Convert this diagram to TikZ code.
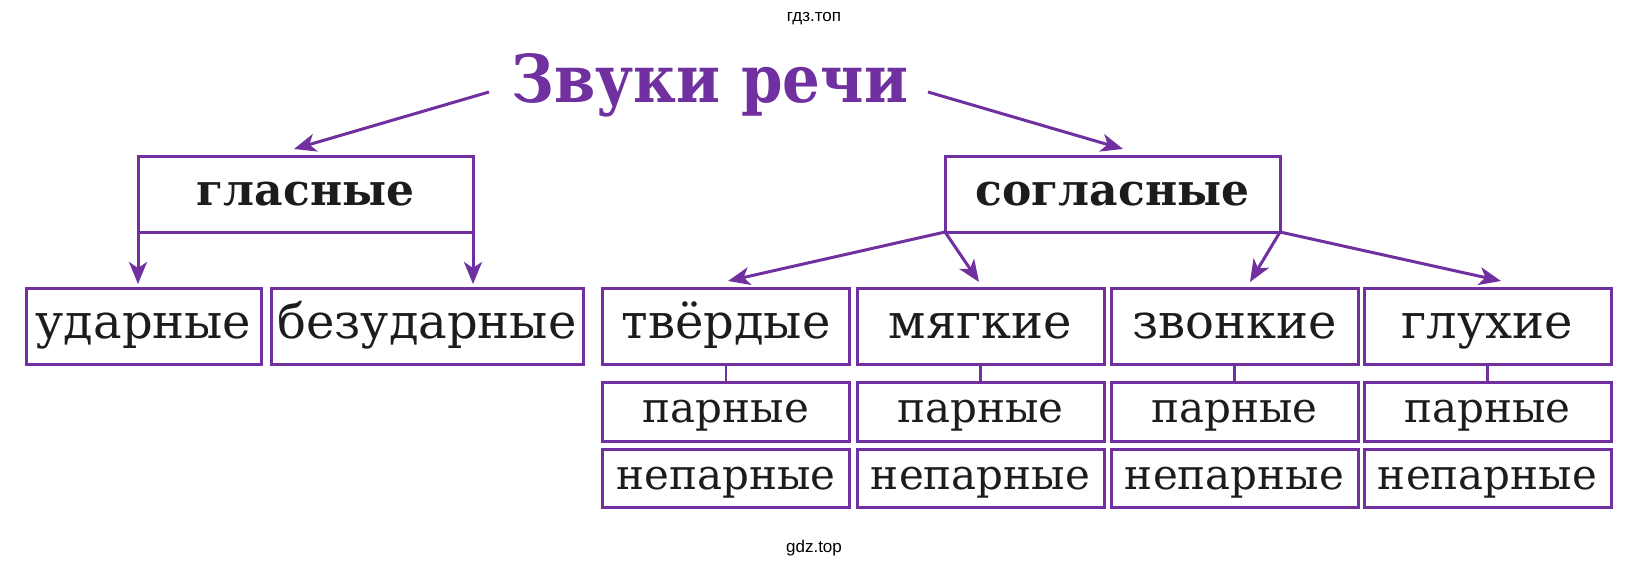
\documentclass[tikz,border=0pt]{standalone}
\usepackage{fontspec}
\setmainfont{DejaVu Serif}
\newfontfamily\wmfont{Liberation Sans}
\usetikzlibrary{arrows.meta}
\definecolor{vio}{RGB}{112,48,160}
\definecolor{ink}{RGB}{28,28,28}
\begin{document}
\begin{tikzpicture}[x=1pt,y=-1pt,
  box/.style={draw=vio,line width=3pt,inner sep=0pt,outer sep=0pt,minimum height=76pt,text=ink,
    font=\fontsize{48}{56}\selectfont,text height=25pt,text depth=0pt},
  topbox/.style={box,minimum width=335pt,font=\fontsize{44}{52}\selectfont\bfseries,text height=23pt},
  subbox/.style={box,minimum width=247pt,minimum height=59pt,font=\fontsize{42}{50}\selectfont,text height=22pt},
  arr/.style={draw=vio,line width=3pt,-{Stealth[length=22pt,width=18pt,inset=6pt]}},
  link/.style={draw=vio,line width=2.5pt},
  wm/.style={font=\wmfont\fontsize{17}{20}\selectfont,text=black,inner sep=0pt}]
\useasboundingbox (0,0) rectangle (1630,565);
\fill[white] (0,0) rectangle (1630,565);
% watermarks
\node[wm,anchor=base] (wm1) at (814,21) {гдз.топ};
\node[wm,anchor=base] (wm2) at (814,552) {gdz.top};
% title
\node[anchor=base,inner sep=0pt,text=vio,font=\fontsize{66}{70}\selectfont\bfseries] (title) at (710,102) {\scalebox{0.9}[1]{Звуки речи}};
% top boxes
\node[topbox] (glas) at (305.5,194) {гласные};
\node[topbox] (sogl) at (1112.5,194) {согласные};
% row 2
\node[box,minimum width=235pt] (udar) at (143.5,326) {ударные};
\node[box,minimum width=312pt] (bezud) at (427,326) {безударные};
\node[box,minimum width=247pt] (tverd) at (726,326) {твёрдые};
\node[box,minimum width=247pt] (myag) at (980.5,326) {мягкие};
\node[box,minimum width=247pt] (zvon) at (1234.5,326) {звонкие};
\node[box,minimum width=247pt] (gluh) at (1487.5,326) {глухие};
% row 3 and 4
\foreach \n/\x in {tverd/726,myag/980.5,zvon/1234.5,gluh/1487.5}{
  \node[subbox] (\n par) at (\x,411.5) {парные};
  \node[subbox,minimum height=58pt] (\n nep) at (\x,478) {непарные};
  \draw[link] (\n.south) -- (\n par.north);
}
% arrow coordinates
\coordinate (tl) at (489,92);
\coordinate (tr) at (928,92);
\coordinate (glasin) at (294,149);
\coordinate (soglin) at (1123,149);
\path (glas.south west) ++(0,52) coordinate (udarin);
\path (glas.south east) ++(0,52) coordinate (bezudin);
\coordinate (tverdin) at (728,281);
\coordinate (myagin) at (979,282);
\coordinate (zvonin) at (1250,282);
\coordinate (gluhin) at (1501,281);
\draw[arr] (tl) -- (glasin);
\draw[arr] (tr) -- (soglin);
\draw[arr] (glas.south west) -- (udarin);
\draw[arr] (glas.south east) -- (bezudin);
\draw[arr] (sogl.south west) -- (tverdin);
\draw[arr] (sogl.south west) -- (myagin);
\draw[arr] (sogl.south east) -- (zvonin);
\draw[arr] (sogl.south east) -- (gluhin);
\end{tikzpicture}
\end{document}
